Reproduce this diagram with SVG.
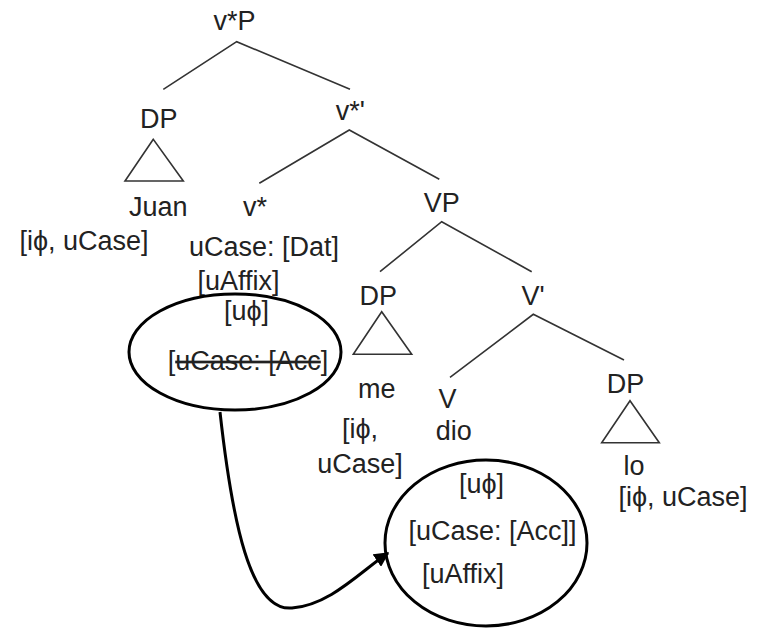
<svg xmlns="http://www.w3.org/2000/svg" width="758" height="628" viewBox="0 0 758 628">
<defs>
<style>
text{font-family:"Liberation Sans",Arial,sans-serif;font-size:27px;fill:#222;text-anchor:middle}
.br{stroke:#333;stroke-width:1.6;fill:none}
.ell{stroke:#000;stroke-width:3;fill:none}
.strike{text-decoration:line-through}
</style>
<marker id="ah" viewBox="0 0 10 10" refX="9" refY="5" markerWidth="5" markerHeight="5" orient="auto" markerUnits="strokeWidth">
<path d="M0,0 L10,5 L0,10 z" fill="#000"/>
</marker>
</defs>
<rect width="758" height="628" fill="#fff"/>
<g id="connectors">
<path class="br" d="M163.3,89.3 L236.7,41.7 L350,89.3"/>
<path class="br" d="M259.3,183.3 L349.3,130 L439.3,179.3"/>
<path class="br" d="M380,271.7 L441.7,221.7 L531.7,271.7"/>
<path class="br" d="M450,377.3 L533.3,314.3 L624,360"/>
<path d="M220,412 C232,520 250,612 292,608 C330,605 360,572 388,553" fill="none" stroke="#000" stroke-width="3" marker-end="url(#ah)"/>
</g>
<g id="vP"><text x="234.5" y="30">v*P</text></g>
<g id="DP-juan">
<text x="158.7" y="128">DP</text>
<polygon class="br" points="153.3,139.3 125,181 183.3,181"/>
<text x="158.3" y="216">Juan</text>
<text x="84" y="250">[iϕ, uCase]</text>
</g>
<g id="vbar"><text x="350.3" y="120">v*'</text></g>
<g id="v-head">
<text x="255" y="216">v*</text>
<text x="264" y="256">uCase: [Dat]</text>
<text x="238.5" y="290">[uAffix]</text>
<text x="246.5" y="320">[uϕ]</text>
<text x="248" y="370">[<tspan class="strike">uCase: [Acc</tspan>]</text>
<ellipse class="ell" cx="235" cy="352" rx="106" ry="58"/>
</g>
<g id="VP"><text x="441.7" y="212">VP</text></g>
<g id="DP-me">
<text x="378.3" y="305">DP</text>
<polygon class="br" points="381.7,311.7 353.3,354.3 411.7,354.3"/>
<text x="376.7" y="398">me</text>
<text x="360" y="438">[iϕ,</text>
<text x="360" y="473">uCase]</text>
</g>
<g id="Vbar"><text x="533" y="305">V'</text></g>
<g id="V-dio">
<text x="447.5" y="408">V</text>
<text x="453.8" y="440">dio</text>
<ellipse class="ell" cx="486" cy="543" rx="101" ry="83"/>
<text x="481.5" y="493">[uϕ]</text>
<text x="492.5" y="540">[uCase: [Acc]]</text>
<text x="463" y="583">[uAffix]</text>
</g>
<g id="DP-lo">
<text x="625.5" y="393">DP</text>
<polygon class="br" points="630,400.7 601.7,442.7 659.3,442.7"/>
<text x="634" y="475">lo</text>
<text x="683" y="506">[iϕ, uCase]</text>
</g>
</svg>
